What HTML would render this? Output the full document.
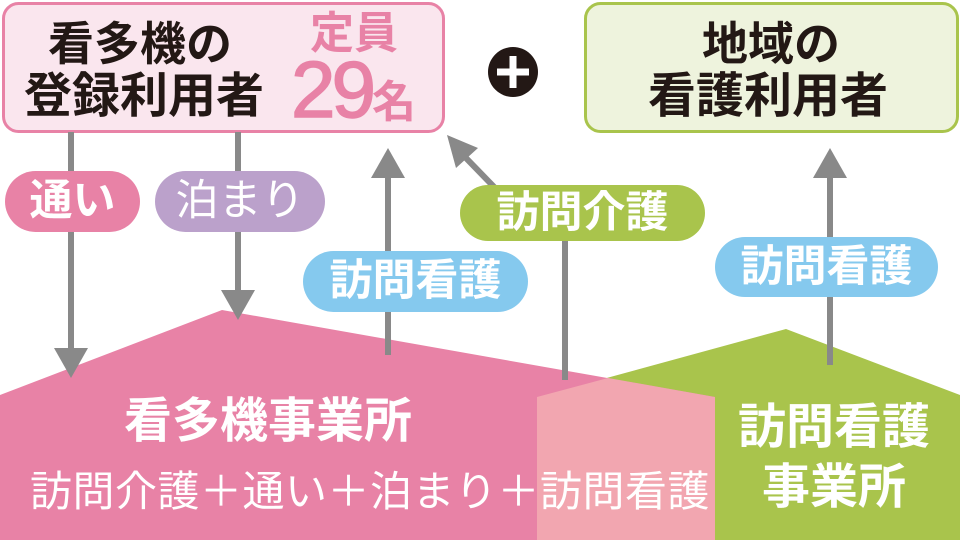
<!DOCTYPE html>
<html><head><meta charset="utf-8"><style>
body{margin:0;width:960px;height:540px;overflow:hidden;background:#fff;font-family:"Liberation Sans","Noto Sans CJK JP",sans-serif;}
.t{position:absolute;white-space:nowrap;line-height:1;}
.pill{position:absolute;border-radius:32px;color:#fff;font-weight:bold;font-size:43px;display:flex;align-items:center;justify-content:center;line-height:1;}
</style></head><body>
<svg width="960" height="540" style="position:absolute;left:0;top:0">
<polygon points="537,397 786,329 960,395 960,540 537,540" fill="#a9c44c"/>
<polygon points="0,395 222,310 715,397 715,540 0,540" fill="#e882a6"/>
<polygon points="537,397 608,378 715,397 715,540 537,540" fill="#f2a6b0"/>
<rect x="3.5" y="3.5" width="440" height="128" rx="15" fill="#fae6ee" stroke="#e882a6" stroke-width="3"/>
<rect x="585.5" y="3.5" width="372" height="128" rx="15" fill="#eef3dd" stroke="#a9c44c" stroke-width="3"/>
<circle cx="513" cy="72" r="25" fill="#231815"/>
<rect x="497" y="68.5" width="32" height="7" fill="#fff"/><rect x="509.5" y="56" width="7" height="32" fill="#fff"/>
<g stroke="#898989" stroke-width="6" fill="none">
<line x1="71" y1="132" x2="71" y2="350"/>
<line x1="238" y1="132" x2="238" y2="292"/>
<line x1="388" y1="355" x2="388" y2="175"/>
<line x1="565" y1="380" x2="565" y2="230"/>
<line x1="497" y1="190" x2="465" y2="157"/>
<line x1="830" y1="365" x2="830" y2="175"/>
</g>
<g fill="#898989">
<polygon points="54,348 88,348 71,378"/>
<polygon points="221,290 255,290 238,320"/>
<polygon points="371,178 405,178 388,148"/>
<polygon points="813,178 847,178 830,148"/>
<polygon points="447,135 478,148 456,168"/>
</g>
</svg>
<div class="t" style="left:48px;top:21px;font-size:46px;font-weight:bold;color:#231815">看多機の</div>
<div class="t" style="left:24px;top:73px;font-size:48px;font-weight:bold;color:#231815">登録利用者</div>
<div class="t" style="left:310px;top:12px;font-size:44px;font-weight:bold;color:#e882a6">定員</div>
<div class="t" style="left:291px;top:50px;font-size:80px;color:#e882a6;letter-spacing:-4px;-webkit-text-stroke:1.5px #e882a6">29<span style="font-size:44px;font-weight:bold;letter-spacing:0;-webkit-text-stroke:0">名</span></div>
<div class="t" style="left:702px;top:21px;font-size:46px;font-weight:bold;color:#231815">地域の</div>
<div class="t" style="left:648px;top:73px;font-size:48px;font-weight:bold;color:#231815">看護利用者</div>
<div class="pill" style="left:5px;top:171px;width:135px;height:61px;background:#e882a6">通い</div>
<div class="pill" style="left:155px;top:171px;width:170px;height:61px;background:#bba1cb;font-weight:normal">泊まり</div>
<div class="pill" style="left:303px;top:251px;width:225px;height:61px;background:#85c9ee">訪問看護</div>
<div class="pill" style="left:460px;top:185px;width:245px;height:56px;background:#a9c44c">訪問介護</div>
<div class="pill" style="left:715px;top:237px;width:223px;height:60px;background:#85c9ee">訪問看護</div>
<div class="t" style="left:124px;top:398px;font-size:48px;font-weight:bold;color:#fff">看多機事業所</div>
<div class="t" style="left:30px;top:471px;font-size:42px;color:#fff;letter-spacing:0.5px">訪問介護＋通い＋泊まり＋訪問看護</div>
<div class="t" style="left:738px;top:404px;font-size:48px;font-weight:bold;color:#fff">訪問看護</div>
<div class="t" style="left:762px;top:464px;font-size:48px;font-weight:bold;color:#fff">事業所</div>
</body></html>
